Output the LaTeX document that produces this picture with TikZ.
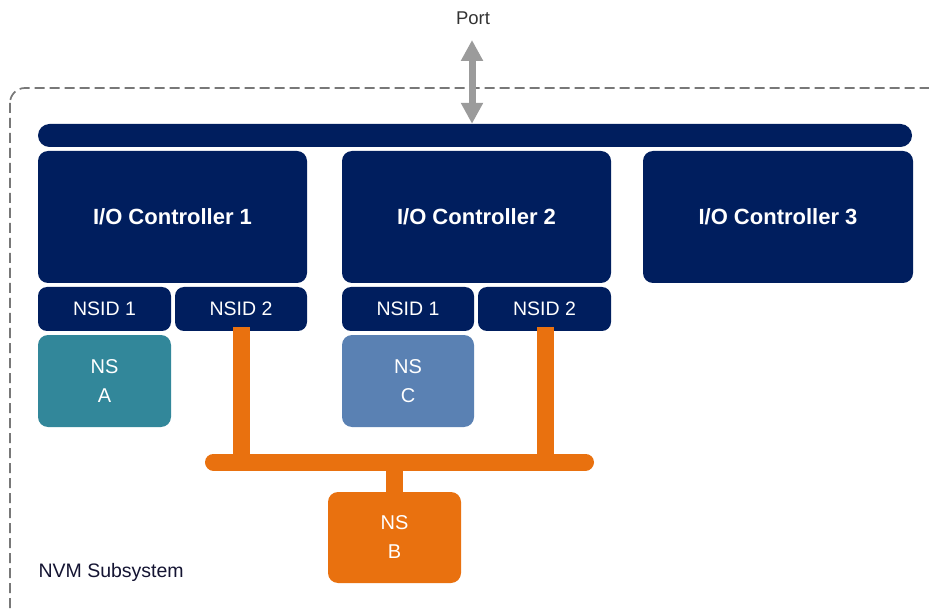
\documentclass[tikz,border=0pt]{standalone}
\usepackage{fontspec}
\setmainfont{Liberation Sans}
\usetikzlibrary{arrows.meta}
\definecolor{navy}{RGB}{0,30,94}
\definecolor{nsorange}{RGB}{233,113,15}
\definecolor{nsteal}{RGB}{50,135,154}
\definecolor{nsblue}{RGB}{90,129,179}
\definecolor{portgray}{RGB}{155,155,155}
\definecolor{boxgray}{RGB}{120,120,120}
\definecolor{labeltext}{RGB}{20,20,50}
\tikzset{
  blk/.style={rectangle, rounded corners=10pt, inner sep=0pt, text=white, align=center},
  ctrl/.style={blk, fill=navy, minimum width=269pt, minimum height=132pt, font=\bfseries\fontsize{22}{26}\selectfont},
  nsid/.style={blk, fill=navy, minimum width=132pt, minimum height=44pt, rounded corners=9pt, font=\fontsize{19.5}{23}\selectfont},
  nsbox/.style={blk, minimum width=133pt, minimum height=92pt, font=\fontsize{20}{29}\selectfont},
  orangeline/.style={draw=nsorange, line width=17pt},
}
\begin{document}
\begin{tikzpicture}[x=1pt,y=-1pt]
\useasboundingbox (0,0) rectangle (929,612);
\clip (0,0) rectangle (929,612);
% subsystem dashed box
\draw[boxgray, line width=1.7pt, dash pattern=on 10pt off 5pt, rounded corners=15pt] (10,88) rectangle (960,650);
\node[anchor=west, text=labeltext, font=\fontsize{19.5}{23}\selectfont] (nvm) at (35,572) {NVM Subsystem};
% bus
\node[rectangle, fill=navy, rounded corners=11.5pt, minimum width=874pt, minimum height=23pt, inner sep=0pt] (bus) at (475,135.5) {};
% port
\node[text=black!80, font=\fontsize{18.5}{22}\selectfont] (port) at (473,18) {Port};
\coordinate (porttop) at (472,40);
\draw[portgray, line width=7pt, {Triangle[width=21pt,length=21pt]}-{Triangle[width=21pt,length=21pt]}] (porttop) -- (porttop |- bus.north);
% controllers
\node[ctrl] (c1) at (172.5,217) {I/O Controller 1};
\node[ctrl] (c2) at (476.5,217) {I/O Controller 2};
\node[ctrl, minimum width=270pt] (c3) at (778,217) {I/O Controller 3};
% NSIDs
\node[nsid, minimum width=133pt] (n11) at (104.5,309) {NSID 1};
\node[nsid] (n12) at (241,309) {NSID 2};
\node[nsid] (n21) at (408,309) {NSID 1};
\node[nsid, minimum width=133pt] (n22) at (544.5,309) {NSID 2};
% namespaces
\node[nsbox, fill=nsteal] (nsA) at (104.5,381) {NS\\A};
\node[nsbox, fill=nsblue, minimum width=132pt] (nsC) at (408,381) {NS\\C};
\node[nsbox, fill=nsorange, minimum height=91pt] (nsB) at (394.5,537.5) {NS\\B};
% shared namespace connectors
\coordinate (jl) at (241,462);
\coordinate (jr) at (545,462);
\coordinate (jb) at (394,462);
\coordinate (barl) at (213.5,462);
\coordinate (barr) at (585.5,462);
\draw[orangeline] ([yshift=4pt]n12.south) -- (jl);
\draw[orangeline] ([yshift=4pt]n22.south -| jr) -- (jr);
\draw[orangeline, line cap=round] (barl) -- (barr);
\draw[orangeline] (jb) -- (jb |- nsB.north);
\end{tikzpicture}
\end{document}
